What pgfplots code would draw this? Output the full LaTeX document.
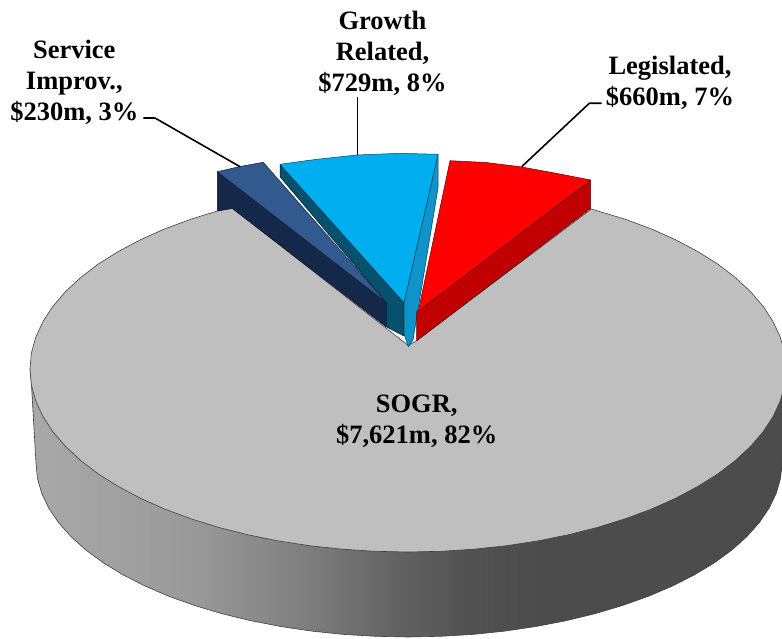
\documentclass[border=0pt]{standalone}
\usepackage{pgfplots}
\pgfplotsset{compat=1.18}
\usepackage{fontspec}
\setmainfont{Liberation Serif}
\definecolor{sogr}{HTML}{BFBFBF}
\definecolor{slate}{HTML}{335A8E}
\definecolor{navy}{HTML}{14284A}
\definecolor{skyb}{HTML}{00AEEF}
\definecolor{skys}{HTML}{0F93CB}
\definecolor{teal2}{HTML}{07506E}
\definecolor{red2}{HTML}{FF0000}
\definecolor{dred}{HTML}{C00000}
\definecolor{edge}{HTML}{404040}
\pgfdeclarehorizontalshading{pieside}{100bp}{
 color(0bp)=(black!34);
 color(25bp)=(black!34);
 color(29bp)=(black!36);
 color(36bp)=(black!40);
 color(43bp)=(black!50);
 color(49bp)=(black!61);
 color(54bp)=(black!68);
 color(58bp)=(black!70);
 color(75bp)=(black!70);
 color(100bp)=(black!70)}
\newcommand{\lab}{\fontsize{26.5}{31}\selectfont\bfseries}
\begin{document}
\begin{tikzpicture}
\useasboundingbox (0,0) rectangle (782pt,639pt);
\begin{axis}[
  at={(0,0)}, anchor=south west,
  scale only axis, width=782pt, height=639pt,
  xmin=0, xmax=782, ymin=0, ymax=639, y dir=reverse,
  hide axis, clip=true,
  every axis plot/.append style={line join=round},
]
% side of the large slice
\addplot[shading=pieside, draw=none] coordinates {
 (30,369) (31.5,385) (33.5,420) (36,463) (37.4,478.2) (41.7,493.2) (48.7,508) (58.4,522.5) (70.9,536.5)
 (85.8,550) (103.3,562.8) (123,574.8) (145,586) (168.9,596.3) (194.6,605.5) (222,613.7) (250.8,620.7)
 (280.8,626.5) (311.7,631.1) (343.4,634.4) (375.6,636.3) (408,637) (440.6,636.3) (472.9,634.4)
 (504.8,631.1) (535.9,626.5) (566.1,620.7) (595,613.7) (622.5,605.5) (648.4,596.3) (672.5,586)
 (694.5,574.8) (714.4,562.8) (731.9,550) (747,536.5) (759.4,522.5) (769.2,508) (776.3,493.2)
 (780.6,478.2) (782,463) (786,369) (408,369) (30,369)};
\addplot[draw=edge, line width=0.6pt] coordinates {
 (30,369) (31.5,385) (33.5,420) (36,463) (37.4,478.2) (41.7,493.2) (48.7,508) (58.4,522.5) (70.9,536.5)
 (85.8,550) (103.3,562.8) (123,574.8) (145,586) (168.9,596.3) (194.6,605.5) (222,613.7) (250.8,620.7)
 (280.8,626.5) (311.7,631.1) (343.4,634.4) (375.6,636.3) (408,637) (440.6,636.3) (472.9,634.4)
 (504.8,631.1) (535.9,626.5) (566.1,620.7) (595,613.7) (622.5,605.5) (648.4,596.3) (672.5,586)
 (694.5,574.8) (714.4,562.8) (731.9,550) (747,536.5) (759.4,522.5) (769.2,508) (776.3,493.2)
 (780.6,478.2) (782,463) (786,369)};
% top of SOGR
\addplot[fill=sogr, draw=edge, line width=0.6pt] coordinates {
 (408.3,345.5) (416.7,340.7) (591.3,209) (624.8,219.1) (651,228.8) (675.3,239.6) (697.5,251.4)
 (717.7,264) (735.3,277.5) (750.6,291.7) (763.2,306.4) (773.1,321.6) (780.3,337.2) (784.6,353)
 (786,369) (784.6,385) (780.3,400.8) (773.1,416.4) (763.2,431.6) (750.6,446.3) (735.3,460.5)
 (717.7,474) (697.5,486.6) (675.3,498.4) (651,509.2) (624.8,518.9) (597,527.5) (567.7,534.9)
 (537.3,541) (505.8,545.8) (473.6,549.2) (441,551.3) (408,552) (375,551.3) (342.4,549.2)
 (310.2,545.8) (278.7,541) (248.3,534.9) (219,527.5) (191.2,518.9) (165,509.2) (140.7,498.4)
 (118.5,486.6) (98.3,474) (80.7,460.5) (65.4,446.3) (52.8,431.6) (42.9,416.4) (35.7,400.8)
 (31.4,385) (30,369) (31.4,353) (35.7,337.2) (42.9,321.6) (52.8,306.4) (65.4,291.7) (80.7,277.5)
 (98.3,264) (118.5,251.4) (140.7,239.6) (165,228.8) (191.2,219.1) (219,210.5) (232.3,208)
 (408.3,345.5)};
% sides of the pulled-out slices
\addplot[fill=teal2, draw=black!70!teal2, line width=0.5pt] coordinates {
 (280,164.3) (404,302.7) (404,336) (386,326.7) (386,302.3) (280,176.7) (280,164.3)};
\addplot[fill=navy, draw=black!60!navy, line width=0.5pt] coordinates {
 (217.3,171.7) (386,302.3) (386,326.7) (232.3,208.5) (217.3,211) (217.3,171.7)};
\addplot[fill=skys, draw=black!60!skys, line width=0.5pt] coordinates {
 (438,154.3) (404,302.7) (404,334) (408.3,346.7) (413,340) (438,188) (438,154.3)};
\addplot[fill=dred, draw=black!50!dred, line width=0.5pt] coordinates {
 (590.7,180) (590.7,208.3) (416.7,340.7) (416.7,311.7) (590.7,180)};
% tops of the slices
\addplot[fill=slate, draw=black!60!slate, line width=0.5pt] coordinates {
 (217.3,171.7) (240,166.5) (263.3,162.3) (386,302.3) (217.3,171.7)};
\addplot[fill=skyb, draw=black!60!skyb, line width=0.5pt] coordinates {
 (280,164.3) (316.7,159.3) (356.7,155) (400,153.3) (438,154.3) (404,302.7) (280,164.3)};
\addplot[fill=red2, draw=black!60!red2, line width=0.5pt] coordinates {
 (450,160.7) (486,162.5) (520,166.7) (553,172.7) (590.7,180) (418.3,311) (450,160.7)};
% leader lines
\addplot[black, line width=1.6pt] coordinates {(143.3,118) (155,118) (240,166.7)};
\addplot[black, line width=1.6pt] coordinates {(357.3,96.7) (357.3,155)};
\addplot[black, line width=1.6pt] coordinates {(601.7,103.3) (589.3,103.3) (521.7,166.7)};
% labels
\node[align=center, inner sep=0pt, font=\lab] at (axis cs:74.3,82) {Service\\Improv.,\\\$230m, 3\%};
\node[align=center, inner sep=0pt, font=\lab] at (axis cs:382.5,53.5) {Growth\\Related,\\\$729m, 8\%};
\node[align=center, inner sep=0pt, font=\lab] at (axis cs:670,82.5) {Legislated,\\\$660m, 7\%};
\node[align=center, inner sep=0pt, font=\lab] at (axis cs:416.7,421.5) {SOGR,\\\$7,621m, 82\%};
\end{axis}
\end{tikzpicture}
\end{document}
